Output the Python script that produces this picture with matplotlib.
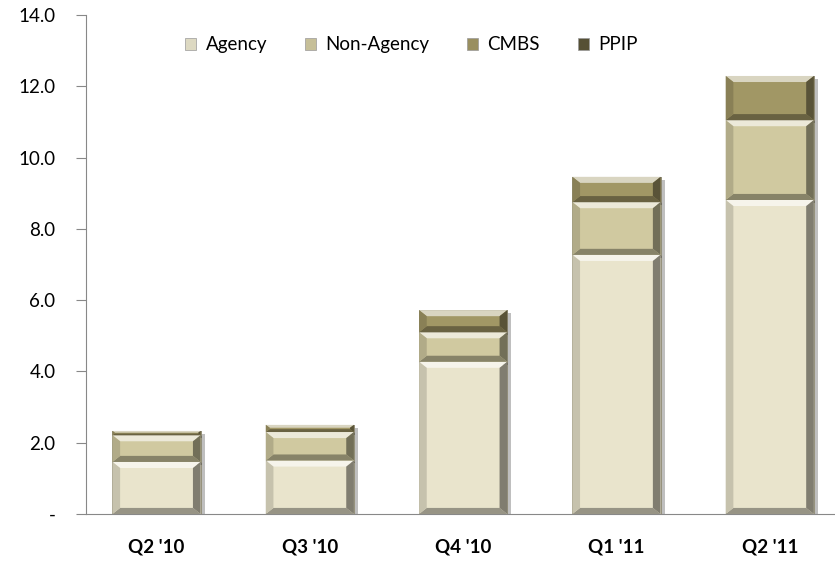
import numpy as np
import matplotlib
matplotlib.use('Agg')
import matplotlib.pyplot as plt
from matplotlib.patches import Polygon, Patch
import matplotlib.patheffects as pe
from matplotlib.colors import to_rgb

plt.rcParams['font.family'] = ['Lato', 'DejaVu Sans']

quarters = ["Q2 '10", "Q3 '10", "Q4 '10", "Q1 '11", "Q2 '11"]
agency = [1.46, 1.50, 4.27, 7.27, 8.81]
non_agency = [0.75, 0.80, 0.83, 1.48, 2.24]
cmbs = [0.12, 0.20, 0.62, 0.71, 1.24]
ppip = [0.0, 0.0, 0.0, 0.0, 0.0]

series = ['Agency', 'Non-Agency', 'CMBS', 'PPIP']
colors = ['#E9E4CC', '#D0C9A0', '#A19765', '#5A5438']


def shade(c, f):
    r, g, b = to_rgb(c)
    if f > 0:
        return (r + (1 - r) * f, g + (1 - g) * f, b + (1 - b) * f)
    return (r * (1 + f), g * (1 + f), b * (1 + f))


fig = plt.figure(figsize=(8.35, 5.67), dpi=100)
ax = fig.add_axes([0.103, 0.0935, 0.896, 0.88])

x = np.arange(len(quarters))
width = 0.575
bottom = np.zeros(len(quarters))
bx = 0.05
for name, vals, col in zip(series, [agency, non_agency, cmbs, ppip], colors):
    vals = np.array(vals)
    bars = ax.bar(x, vals, width, bottom=bottom, color=col, label=name, zorder=2,
                  edgecolor='#8a8670', linewidth=0.6)
    for b in bars:
        h = b.get_height()
        if h <= 0:
            continue
        b.set_path_effects([pe.SimplePatchShadow(offset=(3, -2), shadow_rgbFace='#000000', alpha=0.25),
                            pe.Normal()])
        x0, y0 = b.get_x(), b.get_y()
        x1, y1 = x0 + b.get_width(), y0 + h
        by = min(0.17, h / 2.5)
        bxx = min(bx, by * 0.32)
        polys = [
            ([(x0, y1), (x1, y1), (x1 - bxx, y1 - by), (x0 + bxx, y1 - by)], shade(col, 0.6)),
            ([(x0, y0), (x1, y0), (x1 - bxx, y0 + by), (x0 + bxx, y0 + by)], shade(col, -0.35)),
            ([(x0, y0), (x0, y1), (x0 + bxx, y1 - by), (x0 + bxx, y0 + by)], shade(col, -0.15)),
            ([(x1, y0), (x1, y1), (x1 - bxx, y1 - by), (x1 - bxx, y0 + by)], shade(col, -0.45)),
        ]
        for pts, c in polys:
            ax.add_patch(Polygon(pts, closed=True, facecolor=c, edgecolor='none', zorder=3))
    bottom = bottom + vals

ax.set_xlim(-0.46, 4.42)
ax.set_ylim(0, 14)
ax.set_yticks(np.arange(0, 14.1, 2))
ax.set_yticklabels(['-'] + ['%.1f' % v for v in np.arange(2, 14.1, 2)], fontsize=13.5)
ax.set_xticks(x)
ax.set_xticklabels(quarters, fontsize=13.5, fontweight='bold')
ax.tick_params(axis='x', length=0, pad=18)
ax.tick_params(axis='y', length=7, color='#888888', pad=15)
for s in ['top', 'right']:
    ax.spines[s].set_visible(False)
for s in ['left', 'bottom']:
    ax.spines[s].set_color('#888888')

handles = [Patch(facecolor=shade(c, -0.05), edgecolor='#999999', linewidth=0.5) for c in colors]
ax.legend(handles, series, loc='center', bbox_to_anchor=(0.435, 0.94), ncol=4, frameon=False,
          fontsize=13.5, handlelength=0.6, handleheight=0.6, handletextpad=0.5, columnspacing=2.0)

fig.savefig('out.png', dpi=100)
